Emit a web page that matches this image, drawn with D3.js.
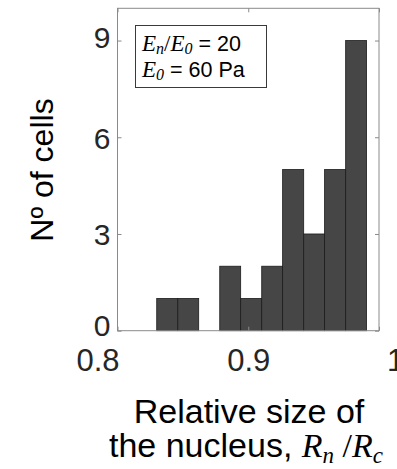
<!DOCTYPE html>
<html>
<head>
<meta charset="utf-8">
<script src="https://cdn.jsdelivr.net/npm/d3@7"></script>
<style>
  html, body { margin: 0; padding: 0; background: #fff; }
  svg { display: block; }
</style>
</head>
<body>
<svg id="chart" width="397" height="469"></svg>
<script>
// ---- data ----
const binEdges = [0.8300, 0.8461, 0.8621, 0.8782, 0.8942, 0.9103, 0.9263, 0.9424, 0.9584, 0.9745, 0.9905];
const counts = [1, 1, 0, 2, 1, 2, 5, 3, 5, 9];
const xTicks = [0.8, 0.9, 1];
const yTicks = [0, 3, 6, 9];
const xTickLabels = ["0.8", "0.9", "1"];
const yTickLabels = ["0", "3", "6", "9"];

const bins = counts.map((c, i) => ({ x0: binEdges[i], x1: binEdges[i + 1], count: c }));

const svg = d3.select("#chart");
const plot = { left: 117.5, right: 379, top: 8.3, bottom: 330.7 };

const x = d3.scaleLinear().domain([0.8, 1.0]).range([plot.left, plot.right]);
const y = d3.scaleLinear().domain([0, 10]).range([plot.bottom, plot.top]);

const frameColor = "#8a8a8a";
const labelColor = "#262626";
const sans = "'Liberation Sans', Arial, sans-serif";
const serif = "'Liberation Serif', 'Times New Roman', serif";

// bars
svg.append("g").selectAll("rect").data(bins).join("rect")
  .attr("x", d => x(d.x0))
  .attr("y", d => y(d.count))
  .attr("width", d => x(d.x1) - x(d.x0))
  .attr("height", d => y(0) - y(d.count))
  .attr("fill", "#464646")
  .attr("stroke", d => d.count > 0 ? "#1c1c1c" : "none")
  .attr("stroke-width", 0.8);

// frame
svg.append("rect")
  .attr("x", plot.left).attr("y", plot.top)
  .attr("width", plot.right - plot.left).attr("height", plot.bottom - plot.top)
  .attr("fill", "none").attr("stroke", frameColor).attr("stroke-width", 1);

// axes (ticks inward)
const tickLen = 4;
function styleAxis(g) {
  g.select(".domain").remove();
  g.selectAll(".tick line").attr("stroke", frameColor);
}
const gxB = svg.append("g").attr("transform", `translate(0,${plot.bottom})`)
  .call(d3.axisBottom(x).tickValues(xTicks).tickSizeInner(-tickLen).tickSizeOuter(0)
    .tickFormat((d, i) => xTickLabels[i]));
styleAxis(gxB);
const xLabelShift = [-20, 0, 16];
gxB.selectAll(".tick text")
  .attr("y", 40).attr("dy", 0)
  .attr("dx", (d, i) => xLabelShift[i])
  .attr("font-family", sans).attr("font-size", 31).attr("fill", labelColor);

const gxT = svg.append("g").attr("transform", `translate(0,${plot.top})`)
  .call(d3.axisTop(x).tickValues(xTicks).tickSizeInner(-tickLen).tickSizeOuter(0).tickFormat(""));
styleAxis(gxT);

const gyL = svg.append("g").attr("transform", `translate(${plot.left},0)`)
  .call(d3.axisLeft(y).tickValues(yTicks).tickSizeInner(-tickLen).tickSizeOuter(0)
    .tickFormat((d, i) => yTickLabels[i]));
styleAxis(gyL);
const yLabelShift = [-6, 0, 0, -4];
gyL.selectAll(".tick text")
  .attr("x", -7).attr("dy", "0.36em")
  .attr("transform", (d, i) => `translate(0,${yLabelShift[i]})`)
  .attr("font-family", sans).attr("font-size", 30).attr("fill", labelColor);

const gyR = svg.append("g").attr("transform", `translate(${plot.right},0)`)
  .call(d3.axisRight(y).tickValues(yTicks).tickSizeInner(-tickLen).tickSizeOuter(0).tickFormat(""));
styleAxis(gyR);

// y title
svg.append("text")
  .attr("transform", "translate(53,170) rotate(-90)")
  .attr("text-anchor", "middle")
  .attr("font-family", sans).attr("font-size", 32).attr("fill", "#000")
  .text("Nº of cells");

// x title
svg.append("text")
  .attr("x", 249).attr("y", 423)
  .attr("text-anchor", "middle")
  .attr("font-family", sans).attr("font-size", 34).attr("fill", "#000")
  .text("Relative size of");

const t2 = svg.append("text")
  .attr("x", 246).attr("y", 457)
  .attr("text-anchor", "middle")
  .attr("font-family", sans).attr("font-size", 34).attr("fill", "#000");
t2.append("tspan").text("the nucleus, ");
t2.append("tspan").attr("font-family", serif).attr("font-style", "italic").text("R");
t2.append("tspan").attr("font-family", serif).attr("font-style", "italic").attr("font-size", 23).attr("dy", 6).text("n");
t2.append("tspan").attr("font-family", serif).attr("dy", -6).text(" /");
t2.append("tspan").attr("font-family", serif).attr("font-style", "italic").text("R");
t2.append("tspan").attr("font-family", serif).attr("font-style", "italic").attr("font-size", 23).attr("dy", 6).text("c");

// legend box
svg.append("rect")
  .attr("x", 135.5).attr("y", 25.5).attr("width", 131).attr("height", 62)
  .attr("fill", "#fff").attr("stroke", "#3a3a3a").attr("stroke-width", 1);

const l1 = svg.append("text").attr("x", 142).attr("y", 51)
  .attr("font-family", serif).attr("font-size", 23).attr("fill", "#000");
l1.append("tspan").attr("font-style", "italic").text("E");
l1.append("tspan").attr("font-style", "italic").attr("font-size", 16).attr("dy", 3).text("n");
l1.append("tspan").attr("dy", -3).text("/");
l1.append("tspan").attr("font-style", "italic").text("E");
l1.append("tspan").attr("font-style", "italic").attr("font-size", 16).attr("dy", 3).text("0");
l1.append("tspan").attr("dy", -3).attr("font-family", sans).attr("font-size", 21.5).text(" = 20");

const l2 = svg.append("text").attr("x", 142).attr("y", 77)
  .attr("font-family", serif).attr("font-size", 23).attr("fill", "#000");
l2.append("tspan").attr("font-style", "italic").text("E");
l2.append("tspan").attr("font-style", "italic").attr("font-size", 16).attr("dy", 3).text("0");
l2.append("tspan").attr("dy", -3).attr("font-family", sans).attr("font-size", 21.5).text(" = 60 Pa");
</script>
</body>
</html>
